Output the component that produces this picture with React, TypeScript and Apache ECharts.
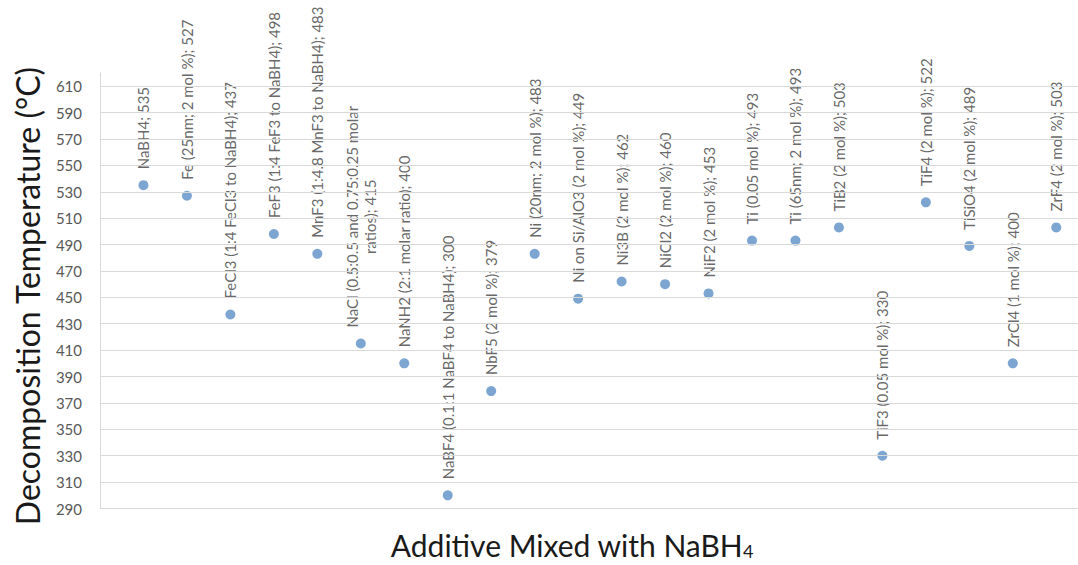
import React, { useEffect, useRef } from "react";
import * as echarts from "echarts";

const additives: string[] = [
  "NaBH4",
  "Fe (25nm; 2 mol %)",
  "FeCl3 (1:4 FeCl3 to NaBH4)",
  "FeF3 (1:4 FeF3 to NaBH4)",
  "MnF3 (1:4.8 MnF3 to NaBH4)",
  "NaCl (0.5:0.5 and 0.75:0.25 molar\nratios)",
  "NaNH2 (2:1 molar ratio)",
  "NaBF4 (0.1:1 NaBF4 to NaBH4)",
  "NbF5 (2 mol %)",
  "Ni (20nm; 2 mol %)",
  "Ni on Si/AlO3 (2 mol %)",
  "Ni3B (2 mol %)",
  "NiCl2 (2 mol %)",
  "NiF2 (2 mol %)",
  "Ti (0.05 mol %)",
  "Ti (65nm; 2 mol %)",
  "TiB2 (2 mol %)",
  "TiF3 (0.05 mol %)",
  "TiF4 (2 mol %)",
  "TiSiO4 (2 mol %)",
  "ZrCl4 (1 mol %)",
  "ZrF4 (2 mol %)",
];

const temperatures: number[] = [
  535, 527, 437, 498, 483, 415, 400, 300, 379, 483, 449,
  462, 460, 453, 493, 493, 503, 330, 522, 489, 400, 503,
];

const yTicks: number[] = [
  290, 310, 330, 350, 370, 390, 410, 430, 450, 470, 490, 510, 530, 550, 570, 590, 610,
];

const FONT = "Lato";

export default function App() {
  const ref = useRef<HTMLDivElement>(null);

  useEffect(() => {
    if (!ref.current) return;
    const chart = echarts.init(ref.current, undefined, { renderer: "svg" });

    const data = additives.map((name, i) => ({
      name,
      value: [i + 1, temperatures[i]],
    }));

    chart.setOption({
      animation: false,
      backgroundColor: "#ffffff",
      grid: { left: 100, right: 0, top: 73, bottom: 56.5, containLabel: false },
      xAxis: {
        type: "value",
        min: 0,
        max: 22.5,
        show: false,
      },
      yAxis: {
        type: "value",
        min: 290,
        max: 620,
        interval: 10,
        axisLine: { show: true, lineStyle: { color: "#d9d9d9", width: 1 } },
        axisTick: { show: false },
        splitLine: { show: false },
        axisLabel: {
          margin: 18,
          color: "#595959",
          fontSize: 15,
          fontFamily: FONT,
          formatter: (v: number) => (yTicks.includes(v) ? String(v) : ""),
        },
      },
      graphic: [
        {
          type: "text",
          x: 27,
          y: 296,
          rotation: Math.PI / 2,
          style: {
            text: "Decomposition Temperature (°C)",
            fontSize: 32,
            fontFamily: FONT,
            fill: "#1a1a1a",
            align: "center",
            verticalAlign: "middle",
          },
        },
        {
          type: "text",
          x: 572,
          y: 545,
          style: {
            text: "Additive Mixed with NaBH{s|4}",
            fontSize: 30,
            fontFamily: FONT,
            fill: "#1a1a1a",
            align: "center",
            verticalAlign: "middle",
            lineHeight: 30,
            rich: {
              s: { fontSize: 18, fontFamily: FONT, fill: "#1a1a1a", verticalAlign: "bottom", lineHeight: 10 },
            },
          },
        },
      ],
      series: [
        {
          type: "scatter",
          data,
          symbol: "circle",
          symbolSize: 10,
          itemStyle: { color: "#5d8fc5" },
          label: {
            show: true,
            position: "top",
            distance: 11,
            rotate: 90,
            align: "left",
            verticalAlign: "middle",
            color: "#404040",
            fontSize: 15,
            fontFamily: FONT,
            formatter: (p: any) => {
              const lines = (p.name + "; " + p.value[1]).split("\n");
              return lines.map((l: string) => "{t|" + l + "}").join("\n");
            },
            rich: {
              t: { align: "center", color: "#404040", fontSize: 15, fontFamily: FONT, lineHeight: 18 },
            },
          },
          markLine: {
            silent: true,
            symbol: ["none", "none"],
            label: { show: false },
            lineStyle: { color: "#d9d9d9", type: "solid", width: 1 },
            data: yTicks.map((v) => ({ yAxis: v })),
          },
          z: 3,
        },
      ],
    });

    return () => chart.dispose();
  }, []);

  return (
    <div
      ref={ref}
      style={{ position: "absolute", left: 0, top: 0, width: 1078, height: 565 }}
    />
  );
}
